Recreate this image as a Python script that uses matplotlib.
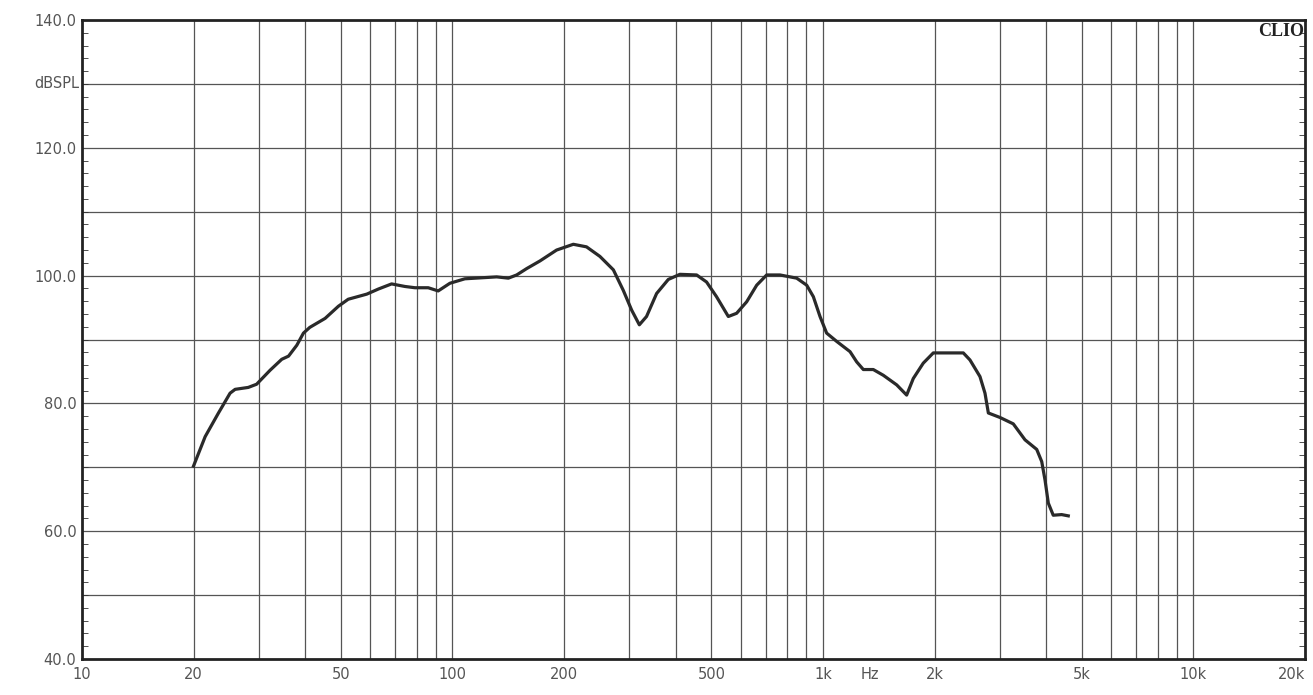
import matplotlib
matplotlib.use("Agg")
import matplotlib.pyplot as plt
import numpy as np

freq_hz = [20, 21.5, 23.3, 25.1, 25.9, 28.1, 29.6, 32.2, 34.6, 36.1, 38.0, 39.6, 41.2, 45.3, 49.2,
           52.3, 58.7, 63.1, 68.5, 74.4, 79.2, 86.0, 91.5, 98.4, 108, 131.6, 141.5, 149, 158.6,
           172.3, 191, 211.9, 230, 250, 271.8, 289, 304.5, 319.4, 334, 355.6, 382.4, 411, 456,
           485, 516, 555.3, 584.6, 622.3, 662.4, 704.7, 765.6, 849.2, 903.7, 941.9, 981.7, 1023,
           1089, 1183, 1233, 1285, 1367, 1455, 1581, 1682, 1753, 1865, 1985, 2392, 2493, 2653,
           2737, 2795, 3004, 3263, 3510, 3775, 3894, 3975, 4057, 4183, 4407, 4593]
spl_db = [70.2, 74.8, 78.4, 81.6, 82.2, 82.5, 83.0, 85.2, 86.9, 87.4, 89.1, 91.0, 91.9, 93.3, 95.2,
          96.3, 97.1, 97.9, 98.7, 98.3, 98.1, 98.1, 97.6, 98.8, 99.5, 99.8, 99.6, 100.1, 101.1,
          102.3, 104.0, 104.9, 104.5, 103.0, 100.9, 97.7, 94.6, 92.3, 93.6, 97.2, 99.4, 100.2, 100.1,
          99.0, 96.7, 93.6, 94.1, 95.9, 98.5, 100.1, 100.1, 99.6, 98.5, 96.7, 93.6, 91.0,
          89.7, 88.1, 86.5, 85.3, 85.3, 84.4, 82.9, 81.3, 83.9, 86.3, 87.9, 87.9, 86.8, 84.2,
          81.6, 78.5, 77.8, 76.8, 74.3, 72.8, 70.9, 68.0, 64.4, 62.5, 62.6, 62.4]

y_ticks = [40, 60, 80, 100, 120, 140]
y_tick_labels = ["40.0", "60.0", "80.0", "100.0", "120.0", "140.0"]
x_ticks = [10, 20, 50, 100, 200, 500, 1000, 2000, 5000, 10000, 20000]
x_tick_labels = ["10", "20", "50", "100", "200", "500", "1k", "2k", "5k", "10k", "20k"]
grid_freqs = [20, 30, 40, 50, 60, 70, 80, 90, 100, 200, 300, 400, 500, 600, 700, 800, 900,
              1000, 2000, 3000, 4000, 5000, 6000, 7000, 8000, 9000, 10000]

fig = plt.figure(figsize=(13.13, 6.95), dpi=100)
ax = fig.add_axes([82/1313, 1-659/695, (1305-82)/1313, (659-20)/695])
ax.set_xscale("log")
ax.set_xlim(10, 20000)
ax.set_ylim(40, 140)

for f in grid_freqs:
    ax.axvline(f, color="#555555", lw=0.9, zorder=1)
for y in range(50, 140, 10):
    ax.axhline(y, color="#555555", lw=0.9, zorder=1)

ax.plot(freq_hz, spl_db, color="#2a2a2a", lw=2.3, zorder=3, solid_joinstyle="round")

ax.set_xticks(x_ticks)
ax.set_xticklabels(x_tick_labels)
ax.xaxis.set_minor_locator(matplotlib.ticker.NullLocator())
ax.set_yticks(y_ticks)
ax.set_yticklabels(y_tick_labels)
ax.set_yticks(np.arange(40, 141, 2), minor=True)
ax.tick_params(axis="both", which="major", length=0, labelsize=10.5, labelcolor="#555555", pad=4)
ax.tick_params(axis="y", which="minor", direction="in", length=4, color="#333333", right=True)
ax.tick_params(axis="x", which="major", pad=6)
last = ax.get_xticklabels()[-1]
last.set_horizontalalignment("right")
last.set_x(20000)

for s in ax.spines.values():
    s.set_linewidth(2.0)
    s.set_color("#222222")

ax.text(-0.002, 130, "dBSPL", transform=ax.get_yaxis_transform(), ha="right", va="center",
        fontsize=10.5, color="#555555")
ax.text(1340, -0.012, "Hz", transform=ax.get_xaxis_transform(), ha="center", va="top",
        fontsize=10.5, color="#555555")
ax.text(0.999, 0.996, "CLIO", transform=ax.transAxes, ha="right", va="top",
        fontsize=13, fontweight="bold", family="Liberation Serif", color="#222222")

fig.savefig("out.png", dpi=100, facecolor="white")
